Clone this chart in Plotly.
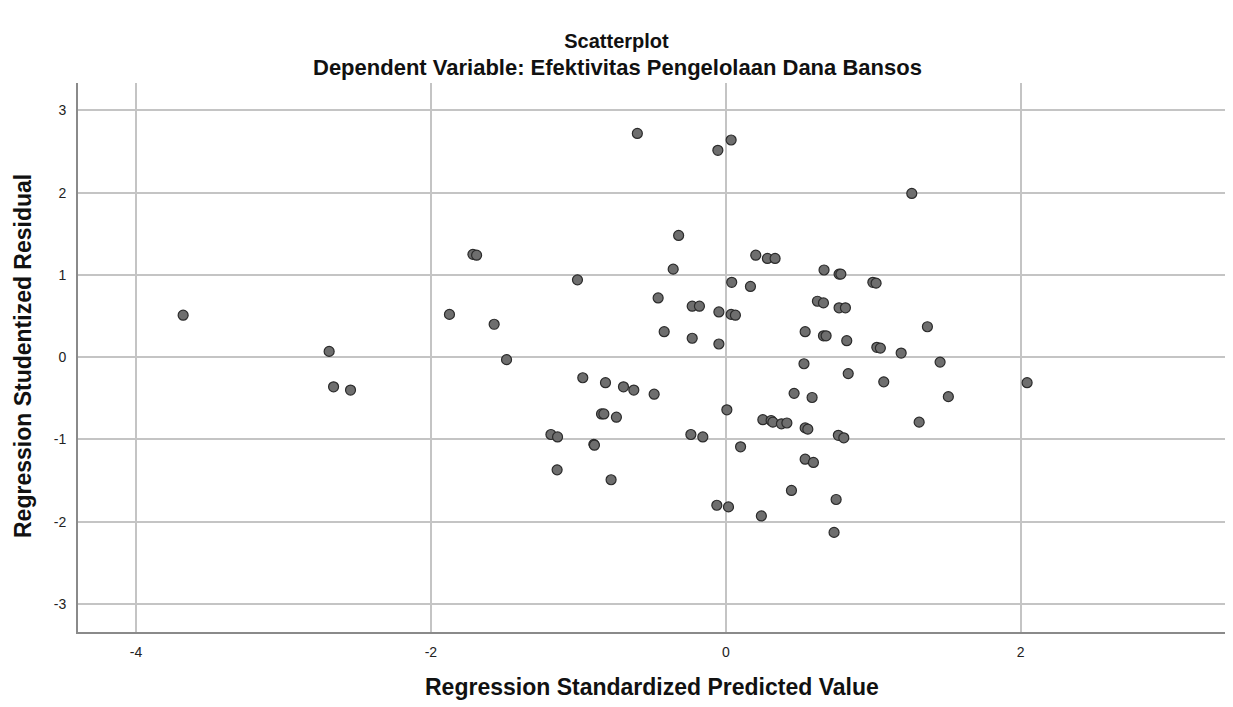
import plotly.graph_objects as go

pred = [-3.68, -2.69, -2.66, -2.545, -1.874, -1.715, -1.69, -1.571, -1.487, -1.186,
        -1.141, -1.144, -1.006, -0.97, -0.895, -0.891, -0.843, -0.827, -0.816, -0.778,
        -0.742, -0.694, -0.624, -0.60, -0.486, -0.459, -0.418, -0.357, -0.32, -0.237,
        -0.228, -0.228, -0.179, -0.156, -0.061, -0.054, -0.047, -0.047, 0.007, 0.018,
        0.036, 0.036, 0.04, 0.065, 0.10, 0.167, 0.203, 0.241, 0.251, 0.282,
        0.307, 0.319, 0.334, 0.377, 0.414, 0.445, 0.463, 0.53, 0.538, 0.538,
        0.538, 0.556, 0.585, 0.594, 0.621, 0.662, 0.662, 0.666, 0.68, 0.734,
        0.748, 0.763, 0.768, 0.78, 0.768, 0.80, 0.811, 0.82, 0.83, 0.997,
        1.019, 1.024, 1.048, 1.071, 1.189, 1.261, 1.311, 1.367, 1.453, 1.509,
        2.043]
resid = [0.51, 0.07, -0.36, -0.40, 0.52, 1.25, 1.24, 0.40, -0.03, -0.94,
         -0.97, -1.37, 0.94, -0.25, -1.06, -1.07, -0.69, -0.69, -0.31, -1.49,
         -0.73, -0.36, -0.40, 2.72, -0.45, 0.72, 0.31, 1.07, 1.48, -0.94,
         0.62, 0.23, 0.62, -0.97, -1.80, 2.515, 0.55, 0.16, -0.64, -1.82,
         2.64, 0.52, 0.91, 0.51, -1.09, 0.86, 1.24, -1.93, -0.76, 1.20,
         -0.77, -0.79, 1.20, -0.81, -0.80, -1.62, -0.44, -0.08, 0.31, -0.86,
         -1.24, -0.875, -0.49, -1.28, 0.68, 0.66, 0.26, 1.06, 0.26, -2.13,
         -1.73, -0.95, 1.01, 1.01, 0.60, -0.98, 0.60, 0.20, -0.20, 0.91,
         0.90, 0.12, 0.11, -0.30, 0.05, 1.99, -0.79, 0.37, -0.06, -0.48,
         -0.31]

x_ticks = [-4, -2, 0, 2]
y_ticks = [-3, -2, -1, 0, 1, 2, 3]

title_text = "Scatterplot"
subtitle_text = "Dependent Variable: Efektivitas Pengelolaan Dana Bansos"
x_title = "Regression Standardized Predicted Value"
y_title = "Regression Studentized Residual"

FONT = "Liberation Sans, Arial, sans-serif"

fig = go.Figure()
fig.add_trace(go.Scatter(
    x=pred, y=resid, mode="markers",
    marker=dict(size=10, color="#6e6e6e", line=dict(color="#2b2b2b", width=1.2)),
    showlegend=False, hoverinfo="x+y",
))

fig.update_layout(
    width=1233, height=707,
    margin=dict(l=78, r=8, t=83, b=75),
    paper_bgcolor="white", plot_bgcolor="white",
    font=dict(family=FONT, color="#222222"),
    title=dict(text="<b>" + title_text + "</b>", x=0.5, xanchor="center",
               y=1 - 41 / 707, yanchor="middle", yref="container",
               font=dict(size=20, family=FONT, color="#111111")),
    xaxis=dict(range=[-4.393, 3.385], tickvals=x_ticks, ticktext=[str(v) for v in x_ticks],
               showgrid=True, gridcolor="#c4c4c4", gridwidth=1.5,
               zeroline=False, showline=True, linecolor="#8a8a8a", linewidth=2,
               ticks="", ticklabelstandoff=6,
               tickfont=dict(size=14, color="#222222", family=FONT)),
    yaxis=dict(range=[-3.341, 3.333], tickvals=y_ticks, ticktext=[str(v) for v in y_ticks],
               showgrid=True, gridcolor="#c4c4c4", gridwidth=1.5,
               zeroline=False, showline=True, linecolor="#8a8a8a", linewidth=2,
               ticks="", ticklabelstandoff=7,
               tickfont=dict(size=14, color="#222222", family=FONT)),
    annotations=[
        dict(text="<b>" + subtitle_text + "</b>", xref="paper", yref="paper",
             x=(617 - 78) / 1147, y=(632 - 67) / 549, xanchor="center", yanchor="middle",
             showarrow=False, font=dict(size=22, family=FONT, color="#111111")),
        dict(text="<b>" + x_title + "</b>", xref="paper", yref="paper",
             x=(652 - 78) / 1147, y=(632 - 687) / 549, xanchor="center", yanchor="middle",
             showarrow=False, font=dict(size=23, family=FONT, color="#111111")),
        dict(text="<b>" + y_title + "</b>", xref="paper", yref="paper",
             x=(23 - 78) / 1147, y=(632 - 356) / 549, xanchor="center", yanchor="middle",
             textangle=-90, showarrow=False, font=dict(size=23, family=FONT, color="#111111")),
    ],
)

fig.write_html("out.html")
